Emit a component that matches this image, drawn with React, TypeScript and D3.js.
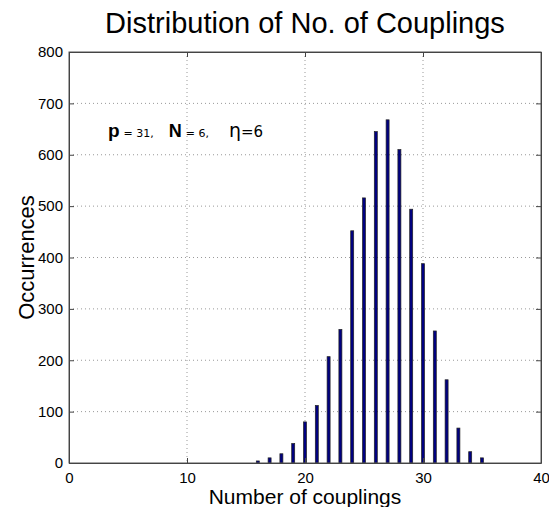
import { useEffect, useRef } from "react";
import * as d3 from "d3";

const couplings = [16, 17, 18, 19, 20, 21, 22, 23, 24, 25, 26, 27, 28, 29, 30, 31, 32, 33, 34, 35];
const occurrences = [4, 10, 18, 38, 80, 112, 207, 260, 452, 516, 645, 668, 610, 494, 388, 257, 162, 68, 22, 10];
const xTicks = [0, 10, 20, 30, 40];
const yTicks = [0, 100, 200, 300, 400, 500, 600, 700, 800];

const App = () => {
  const svgRef = useRef<SVGSVGElement>(null);

  useEffect(() => {
    const W = 549;
    const H = 507;
    const margin = { top: 52, right: 8, bottom: 44, left: 69 };
    const width = W - margin.left - margin.right;
    const height = H - margin.top - margin.bottom;
    const font = "Liberation Sans, Arial, sans-serif";

    const svg = d3.select(svgRef.current);
    svg.selectAll("*").remove();
    svg.attr("width", W).attr("height", H).style("background", "#fff");

    const g = svg.append("g").attr("transform", `translate(${margin.left},${margin.top})`);

    const x = d3.scaleLinear().domain([0, 40]).range([0, width]);
    const y = d3.scaleLinear().domain([0, 800]).range([height, 0]);

    // dotted grid
    g.append("g")
      .selectAll("line")
      .data(xTicks.slice(1, -1))
      .join("line")
      .attr("x1", (d) => x(d))
      .attr("x2", (d) => x(d))
      .attr("y1", 0)
      .attr("y2", height)
      .attr("stroke", "#999")
      .attr("stroke-dasharray", "1,3");

    g.append("g")
      .selectAll("line")
      .data(yTicks.slice(1, -1))
      .join("line")
      .attr("x1", 0)
      .attr("x2", width)
      .attr("y1", (d) => y(d))
      .attr("y2", (d) => y(d))
      .attr("stroke", "#999")
      .attr("stroke-dasharray", "1,3");

    // bars
    const bw = 3;
    g.append("g")
      .selectAll("rect")
      .data(couplings)
      .join("rect")
      .attr("x", (d) => x(d) - bw / 2)
      .attr("y", (d, i) => y(occurrences[i]))
      .attr("width", bw)
      .attr("height", (d, i) => height - y(occurrences[i]))
      .attr("fill", "#000080")
      .attr("stroke", "#222")
      .attr("stroke-width", 0.7);

    // box
    g.append("rect")
      .attr("width", width)
      .attr("height", height)
      .attr("fill", "none")
      .attr("stroke", "#555");

    // axes (ticks pointing inward, also mirrored on top/right)
    const xAxis = g
      .append("g")
      .attr("transform", `translate(0,${height})`)
      .call(d3.axisBottom(x).tickValues(xTicks).tickSizeInner(-5).tickSizeOuter(0).tickPadding(9));
    const yAxis = g
      .append("g")
      .call(d3.axisLeft(y).tickValues(yTicks).tickSizeInner(-5).tickSizeOuter(0).tickPadding(6));
    const xTop = g.append("g").call(d3.axisTop(x).tickValues(xTicks).tickSizeInner(-5).tickSizeOuter(0).tickFormat(() => ""));
    const yRight = g
      .append("g")
      .attr("transform", `translate(${width},0)`)
      .call(d3.axisRight(y).tickValues(yTicks).tickSizeInner(-5).tickSizeOuter(0).tickFormat(() => ""));
    [xAxis, yAxis, xTop, yRight].forEach((a) => {
      a.select(".domain").attr("stroke", "#444");
      a.selectAll(".tick line").attr("stroke", "#444");
      a.selectAll("text").attr("font-family", font).attr("font-size", 15).attr("fill", "#000");
    });

    // title & labels
    svg.append("text")
      .attr("x", margin.left + width / 2)
      .attr("y", 33)
      .attr("text-anchor", "middle")
      .attr("font-family", font)
      .attr("font-size", 29)
      .text("Distribution of No. of Couplings");

    svg.append("text")
      .attr("x", margin.left + width / 2)
      .attr("y", 504)
      .attr("text-anchor", "middle")
      .attr("font-family", font)
      .attr("font-size", 21)
      .text("Number of couplings");

    svg.append("text")
      .attr("transform", `translate(34,${margin.top + height / 2}) rotate(-90)`)
      .attr("text-anchor", "middle")
      .attr("font-family", font)
      .attr("font-size", 22)
      .text("Occurrences");

    // annotation
    const ann = g.append("text")
      .attr("x", x(3.3))
      .attr("y", y(634))
      .attr("font-family", "DejaVu Sans, sans-serif")
      .attr("fill", "#000");
    ann.append("tspan").attr("font-family", font).attr("font-weight", "bold").attr("font-size", 19).text("p");
    ann.append("tspan").attr("font-size", 11).attr("dx", 4).text("=  31,");
    ann.append("tspan").attr("font-family", font).attr("font-weight", "bold").attr("font-size", 18).attr("dx", 15).text("N");
    ann.append("tspan").attr("font-size", 11).attr("dx", 4).text("= 6,");
    ann.append("tspan").attr("font-size", 19).attr("dx", 20).text("η");
    ann.append("tspan").attr("font-size", 15).text("=6");
  }, []);

  return <svg ref={svgRef} style={{ display: "block", position: "absolute", left: 0, top: 0 }}></svg>;
};

export default App;
